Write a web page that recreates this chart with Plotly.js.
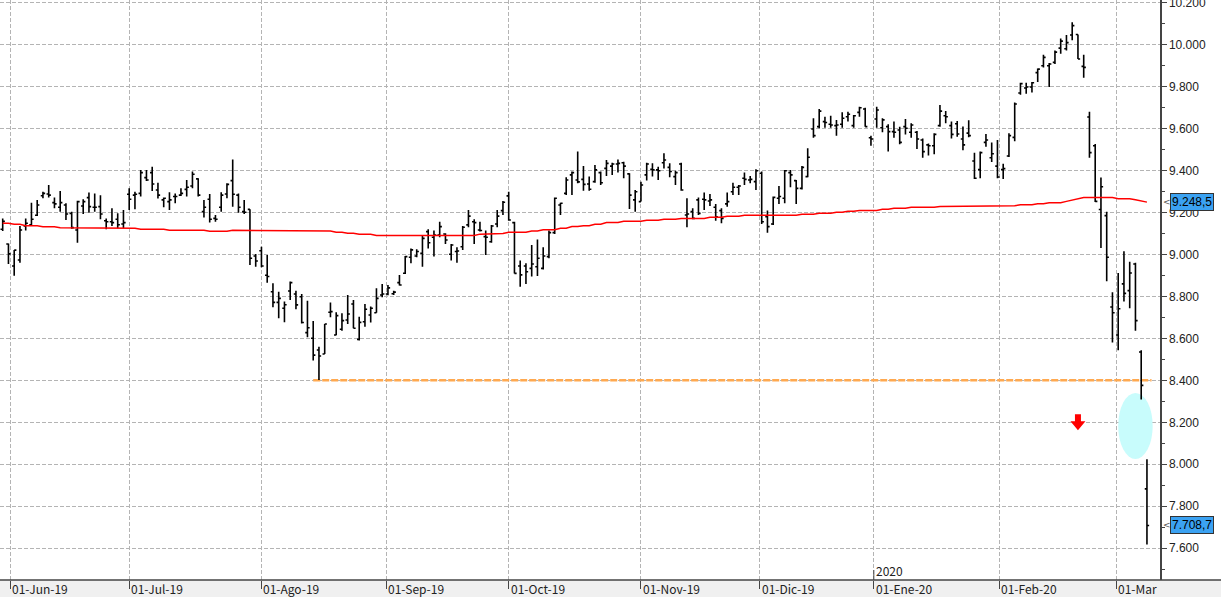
<!DOCTYPE html>
<html>
<head>
<meta charset="utf-8">
<script src="https://cdn.plot.ly/plotly-3.0.1.min.js"></script>
<style>html,body{margin:0;padding:0;background:#fff;}#chart{width:1221px;height:597px;}</style>
</head>
<body>
<div id="chart"></div>
<script>
// ---- trading days (categories) ----
const dates = [
'2019-05-30','2019-05-31',
'2019-06-03','2019-06-04','2019-06-05','2019-06-06','2019-06-07','2019-06-10','2019-06-11','2019-06-12','2019-06-13','2019-06-14','2019-06-17','2019-06-18','2019-06-19','2019-06-20','2019-06-21','2019-06-24','2019-06-25','2019-06-26','2019-06-27','2019-06-28',
'2019-07-01','2019-07-02','2019-07-03','2019-07-04','2019-07-05','2019-07-08','2019-07-09','2019-07-10','2019-07-11','2019-07-12','2019-07-15','2019-07-16','2019-07-17','2019-07-18','2019-07-19','2019-07-22','2019-07-23','2019-07-24','2019-07-25','2019-07-26','2019-07-29','2019-07-30','2019-07-31',
'2019-08-01','2019-08-02','2019-08-05','2019-08-06','2019-08-07','2019-08-08','2019-08-09','2019-08-12','2019-08-13','2019-08-14','2019-08-15','2019-08-16','2019-08-19','2019-08-20','2019-08-21','2019-08-22','2019-08-23','2019-08-26','2019-08-27','2019-08-28','2019-08-29','2019-08-30',
'2019-09-02','2019-09-03','2019-09-04','2019-09-05','2019-09-06','2019-09-09','2019-09-10','2019-09-11','2019-09-12','2019-09-13','2019-09-16','2019-09-17','2019-09-18','2019-09-19','2019-09-20','2019-09-23','2019-09-24','2019-09-25','2019-09-26','2019-09-27','2019-09-30',
'2019-10-01','2019-10-02','2019-10-03','2019-10-04','2019-10-07','2019-10-08','2019-10-09','2019-10-10','2019-10-11','2019-10-14','2019-10-15','2019-10-16','2019-10-17','2019-10-18','2019-10-21','2019-10-22','2019-10-23','2019-10-24','2019-10-25','2019-10-28','2019-10-29','2019-10-30','2019-10-31',
'2019-11-01','2019-11-04','2019-11-05','2019-11-06','2019-11-07','2019-11-08','2019-11-11','2019-11-12','2019-11-13','2019-11-14','2019-11-15','2019-11-18','2019-11-19','2019-11-20','2019-11-21','2019-11-22','2019-11-25','2019-11-26','2019-11-27','2019-11-28','2019-11-29',
'2019-12-02','2019-12-03','2019-12-04','2019-12-05','2019-12-06','2019-12-09','2019-12-10','2019-12-11','2019-12-12','2019-12-13','2019-12-16','2019-12-17','2019-12-18','2019-12-19','2019-12-20','2019-12-23','2019-12-24','2019-12-27','2019-12-30','2019-12-31',
'2020-01-02','2020-01-03','2020-01-06','2020-01-07','2020-01-08','2020-01-09','2020-01-10','2020-01-13','2020-01-14','2020-01-15','2020-01-16','2020-01-17','2020-01-20','2020-01-21','2020-01-22','2020-01-23','2020-01-24','2020-01-27','2020-01-28','2020-01-29','2020-01-30','2020-01-31',
'2020-02-03','2020-02-04','2020-02-05','2020-02-06','2020-02-07','2020-02-10','2020-02-11','2020-02-12','2020-02-13','2020-02-14','2020-02-17','2020-02-18','2020-02-19','2020-02-20','2020-02-21','2020-02-24','2020-02-25','2020-02-26','2020-02-27','2020-02-28',
'2020-03-02','2020-03-03','2020-03-04','2020-03-05','2020-03-06','2020-03-09'
];

// ---- OHLC values ----
const open = [
9119,9049,
8944,8973,9135,9140,9186,9279,9287,9246,9224,9235,9195,9116,9230,9270,9224,9227,9160,9155,9167,9144,
9286,9282,9290,9365,9389,9306,9259,9251,9275,9282,9309,9325,9359,9203,9262,9171,9224,9287,9351,9282,9203,9214,8992,
9017,8900,8822,8771,8743,8825,8811,8798,8627,8600,8544,8525,8724,8616,8643,8687,8763,8595,8679,8711,8722,8806,
8811,8812,8865,8910,8986,8992,9005,9108,9081,9092,9097,9000,9013,9036,9140,9155,9116,9084,9060,9144,9208,
9278,9151,8944,8944,8933,8941,8933,8989,9103,9235,9290,9378,9354,9357,9335,9346,9389,9409,9420,9430,9436,9383,9259,
9251,9378,9405,9402,9436,9414,9370,9430,9187,9203,9259,9262,9254,9224,9208,9240,9298,9319,9362,9354,9346,
9386,9179,9144,9267,9267,9389,9351,9314,9370,9597,9608,9632,9619,9613,9619,9655,9613,9676,9692,9555,
9644,9603,9608,9584,9592,9608,9581,9581,9544,9521,9517,9613,9660,9613,9622,9549,9577,9444,9403,9533,9460,9420,
9403,9468,9557,9768,9792,9797,9865,9898,9898,9914,9982,9979,10044,10047,9895,9654,9517,9213,9184,8749,
8616,8859,8827,8954,8535,7883
];
const high = [
9171,9052,
9020,9135,9171,9246,9259,9298,9330,9270,9301,9243,9203,9255,9262,9294,9290,9281,9171,9219,9195,9211,
9314,9298,9402,9402,9417,9341,9271,9295,9290,9314,9354,9394,9362,9259,9287,9187,9295,9338,9452,9290,9259,9214,9002,
9036,8997,8862,8822,8775,8870,8827,8811,8779,8682,8560,8668,8771,8724,8719,8806,8782,8703,8763,8751,8838,8859,
8854,8827,8902,8992,9028,9024,9087,9119,9113,9155,9100,9049,9033,9135,9211,9167,9155,9113,9140,9211,9254,
9298,9155,8970,8957,9044,9071,9033,9113,9271,9246,9367,9394,9489,9421,9370,9425,9394,9449,9436,9452,9441,9386,9306,
9346,9436,9433,9417,9481,9433,9398,9436,9267,9219,9271,9294,9287,9240,9219,9294,9341,9330,9389,9373,9405,
9394,9208,9275,9325,9402,9402,9354,9421,9505,9648,9692,9655,9660,9640,9676,9679,9663,9703,9698,9565,
9703,9648,9619,9632,9608,9644,9624,9587,9552,9528,9576,9711,9682,9632,9635,9609,9638,9484,9489,9573,9533,9544,
9431,9577,9723,9817,9817,9820,9885,9950,9911,9971,10028,10044,10105,10047,9950,9679,9525,9366,9203,8819,
8911,9014,8965,8960,8543,8024
];
const low = [
9111,8954,
8898,8960,9113,9135,9182,9267,9271,9219,9203,9163,9122,9055,9192,9198,9203,9167,9119,9135,9124,9124,
9211,9214,9275,9349,9301,9266,9224,9211,9243,9278,9275,9314,9275,9175,9152,9155,9203,9267,9227,9198,9192,8949,8941,
8938,8865,8748,8695,8676,8782,8738,8671,8605,8494,8401,8525,8700,8614,8636,8668,8648,8589,8655,8675,8722,8795,
8805,8806,8851,8906,8957,8986,8941,9028,8989,9081,9049,8970,8960,9021,9129,9049,9108,8997,9055,9129,9187,
9160,8909,8846,8859,8894,8897,8928,8981,9097,9187,9282,9282,9338,9303,9303,9341,9330,9373,9378,9389,9362,9216,9203,
9251,9351,9370,9354,9409,9367,9330,9303,9129,9167,9187,9211,9230,9160,9148,9227,9282,9282,9330,9338,9306,
9144,9103,9140,9240,9243,9319,9240,9309,9367,9555,9600,9603,9603,9565,9603,9632,9603,9655,9608,9517,
9603,9581,9489,9555,9524,9571,9555,9502,9460,9470,9476,9608,9624,9552,9560,9495,9557,9359,9362,9512,9440,9362,
9359,9463,9538,9760,9765,9771,9820,9890,9797,9906,9955,9971,10019,9930,9841,9460,9249,9030,8872,8580,
8543,8775,8743,8636,8308,7618
];
const close = [
9157,9002,
9020,9116,9148,9167,9235,9290,9282,9240,9246,9192,9127,9251,9251,9227,9224,9192,9155,9151,9141,9151,
9262,9286,9389,9354,9335,9282,9267,9259,9275,9290,9319,9381,9282,9224,9167,9167,9282,9333,9286,9224,9200,8981,8968,
8944,8894,8771,8790,8760,8865,8759,8675,8650,8520,8516,8668,8727,8708,8684,8716,8648,8676,8738,8743,8790,8811,
8840,8820,8854,8989,9021,9013,9076,9055,9092,9132,9068,9044,9016,9129,9182,9151,9113,9081,9135,9182,9248,
9163,8909,8902,8917,8954,8981,8992,9103,9267,9243,9354,9389,9345,9333,9310,9402,9341,9433,9430,9433,9420,9282,9298,
9330,9430,9402,9398,9449,9394,9389,9306,9192,9171,9195,9259,9259,9179,9171,9251,9319,9325,9357,9357,9398,
9155,9132,9271,9275,9398,9378,9314,9414,9462,9565,9682,9628,9616,9616,9648,9667,9660,9698,9608,9549,
9687,9640,9584,9581,9533,9600,9616,9549,9489,9517,9571,9682,9655,9571,9573,9521,9565,9362,9484,9544,9479,9368,
9408,9565,9716,9813,9797,9817,9882,9938,9906,9963,10015,10008,10089,9930,9890,9484,9252,9322,8986,8722,
8741,8814,8911,8684,8376,7708.7
];

// ---- moving average ----
const movingAvg = [
9147.5,9147.5,9142.7,9142.7,9136.4,9136.4,9136.4,9131.6,9131.6,9131.6,
9126.9,9126.9,9126.9,9126.9,9123.7,9123.7,9123.7,9123.7,9123.7,9123.7,
9123.7,9123.7,9123.7,9123.7,9118.9,9118.9,9118.9,9118.9,9118.9,9114.2,
9114.2,9114.2,9114.2,9114.2,9114.2,9114.2,9109.4,9109.4,9109.4,9109.4,
9114.2,9114.2,9114.2,9114.2,9114.2,9114.2,9114.2,9114.2,9114.2,9114.2,
9114.2,9114.2,9114.2,9114.2,9114.2,9111,9111,9111,9104.6,9104.6,
9099.9,9099.9,9095.1,9095.1,9095.1,9089.5,9089.5,9089.5,9089.5,9089.5,
9089.5,9089.5,9089.5,9089.5,9089.5,9089.5,9089.5,9089.5,9089.5,9089.5,
9089.5,9089.5,9089.5,9096,9096,9099,9099,9099,9105,9105,
9105,9105,9111,9111,9117,9117,9117,9124,9124,9132,
9132,9136,9136,9143,9143,9151,9151,9151,9157,9157,
9157,9157,9162,9162,9162,9167,9167,9167,9171,9171,
9171,9171,9171,9176,9176,9176,9181,9181,9181,9186,
9186,9186,9186,9186,9186,9186,9186,9186,9186,9191,
9191,9191,9195,9195,9195,9200,9200,9205,9205,9209,
9209,9209,9209,9214,9214,9219,9219,9219,9224,9224,
9224,9224,9224,9228,9228,9228,9231,9231,9231,9231,
9231,9231,9231,9231,9231,9231,9231,9236,9236,9236,
9241,9241,9246,9246,9246,9252,9257,9263,9270,9270,
9270,9270,9270,9270,9265,9265,9265,9260,9254,9248.5
];

// ---- axis labels ----
const monthStarts = ['2019-06-01','2019-07-01','2019-08-01','2019-09-01','2019-10-01','2019-11-01','2019-12-01','2020-01-01','2020-02-01','2020-03-01'];
const monthLabels = ['01-Jun-19','01-Jul-19','01-Ago-19','01-Sep-19','01-Oct-19','01-Nov-19','01-Dic-19','01-Ene-20','01-Feb-20','01-Mar'];
const yearMark = {date:'2020-01-01', label:'2020'};

// ---- annotations of the analyst ----
const supportLevel = 8400;
const supportFrom = '2019-08-14';
const signalDate = '2020-02-20';
const signalLevel = 8200;
const gapZone = {from:'2020-03-02', to:'2020-03-09', low:8025, high:8340};

// calendar date -> position on the trading-day axis
function calPos(ds){
  const t = Date.parse(ds);
  for (let i=0;i<dates.length;i++){
    const ti = Date.parse(dates[i]);
    if (ti >= t){
      if (ti === t || i === 0) return i;
      const tp = Date.parse(dates[i-1]);
      return i-1 + (t-tp)/(ti-tp);
    }
  }
  return dates.length-1;
}
const monthPos = monthStarts.map(calPos);
const fmt = v => new Intl.NumberFormat('de-DE',{minimumFractionDigits:1,maximumFractionDigits:1}).format(v);
const last = dates.length-1;

const gridCol = '#b4b4b4';
const axisCol = '#444';
const labelFont = {family:'Noto Sans CJK JP, DejaVu Sans', size:12, color:'#222'};

const traces = [
  {
    type:'ohlc', x:dates, open:open, high:high, low:low, close:close,
    increasing:{line:{color:'#000', width:1.6}},
    decreasing:{line:{color:'#000', width:1.6}},
    tickwidth:0.38, hoverinfo:'skip', showlegend:false
  },
  {
    type:'scatter', mode:'lines', x:dates, y:movingAvg,
    line:{color:'#ff0000', width:1.5}, hoverinfo:'skip', showlegend:false
  }
];

const annotations = monthLabels.map((t,i)=>({
  text:t, x:monthPos[i], xref:'x', y:-8.5/580, yref:'paper', xanchor:'left', yanchor:'middle',
  xshift:1, showarrow:false, borderpad:0, font:labelFont
}));
annotations.push({
  text:yearMark.label, x:calPos(yearMark.date), xref:'x', y:0, yref:'paper',
  xanchor:'left', yanchor:'bottom', xshift:1, yshift:0, borderpad:0, showarrow:false, font:labelFont
});
[movingAvg[last], close[last]].forEach(v=>{
  annotations.push({
    text:'<', x:1+1/1160, xref:'paper', y:v, yref:'y', xanchor:'left', yanchor:'middle',
    showarrow:false, font:{family:'DejaVu Sans', size:9, color:'#555'}
  });
  annotations.push({
    text:fmt(v), x:1+10/1160, xref:'paper', y:v, yref:'y', xanchor:'left', yanchor:'middle',
    showarrow:false, bgcolor:'#3ba2f2', bordercolor:'#333', borderwidth:1, borderpad:1,
    font:{family:'Liberation Sans, Arial', size:12, color:'#000'}
  });
});

const shapes = [
  // bottom label strip
  {type:'rect', xref:'paper', yref:'paper', x0:-0.01, x1:1.1, y0:-0.06, y1:0, fillcolor:'#f0f0f0', line:{width:0}, layer:'below'},
  // bottom axis line across full width
  {type:'line', xref:'paper', yref:'paper', x0:0, x1:1.06, y0:0, y1:0, line:{color:axisCol, width:1.5}},
  // year marker
  {type:'line', xref:'x', yref:'paper', x0:calPos(yearMark.date), x1:calPos(yearMark.date), y0:0, y1:10/580, line:{color:axisCol, width:1}},
  // support line
  {type:'line', xref:'x', yref:'y', x0:dates.indexOf(supportFrom), x1:last+0.8, y0:supportLevel, y1:supportLevel,
   line:{color:'#ffa950', width:2.5, dash:'7px,2px'}, layer:'between'},
  // highlighted gap
  {type:'circle', xref:'x', yref:'y', x0:dates.indexOf(gapZone.from), x1:dates.indexOf(gapZone.to)+1,
   y0:gapZone.low, y1:gapZone.high, fillcolor:'#c8fcfc', line:{width:0}, layer:'between'},
  // sell signal arrow
  {type:'path', xref:'x', yref:'y', xsizemode:'pixel', ysizemode:'pixel',
   xanchor:dates.indexOf(signalDate), yanchor:signalLevel,
   path:'M-3,8 L3,8 L3,1 L7.5,1 L0,-8 L-7.5,1 L-3,1 Z', fillcolor:'#ff0000', line:{width:0}}
];

const layout = {
  width:1221, height:597,
  margin:{l:0, r:61, t:0, b:17, pad:0},
  paper_bgcolor:'#fff', plot_bgcolor:'#fff',
  separators:',.',
  showlegend:false, hovermode:false,
  xaxis:{
    type:'category', range:[-0.47, 201.27], fixedrange:true,
    tickmode:'array', tickvals:monthPos, ticktext:monthLabels, showticklabels:false,
    ticks:'outside', ticklen:8, tickcolor:axisCol, tickwidth:1,
    showgrid:true, gridcolor:gridCol, gridwidth:1, griddash:'4px,2px',
    showline:false, zeroline:false, rangeslider:{visible:false}
  },
  yaxis:{
    side:'right', range:[7449, 10211], fixedrange:true,
    tick0:0, dtick:200, tickformat:',d', ticklabeloverflow:'allow',
    ticks:'outside', ticklen:5, tickcolor:axisCol, tickwidth:1,
    showline:true, linecolor:axisCol, linewidth:1.5,
    showgrid:true, gridcolor:gridCol, gridwidth:1, griddash:'4px,2px', zeroline:false,
    tickfont:{family:'Liberation Sans, Arial', size:12, color:'#222'},
    minor:{tick0:0, dtick:100, ticks:'outside', ticklen:3, tickcolor:axisCol, showgrid:false}
  },
  annotations:annotations,
  shapes:shapes
};

Plotly.newPlot('chart', traces, layout, {displayModeBar:false, staticPlot:true});
</script>
</body>
</html>
